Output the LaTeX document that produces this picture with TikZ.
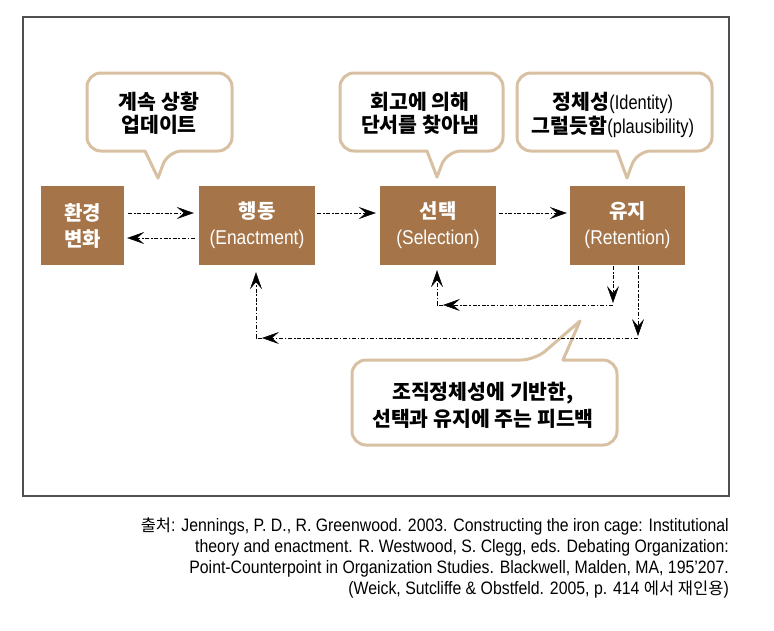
\documentclass[tikz,border=0pt]{standalone}
\usepackage{fontspec}
\setmainfont{Noto Sans CJK KR}
\newfontfamily\narbox[FakeStretch=0.87]{Liberation Sans}
\newfontfamily\narbub[FakeStretch=0.82]{Liberation Sans}
\newfontfamily\narcap[FakeStretch=0.88]{Liberation Sans}
\usetikzlibrary{arrows.meta}
\definecolor{boxbrown}{RGB}{165,116,72}
\definecolor{bubtan}{RGB}{216,192,162}
\definecolor{framegray}{RGB}{80,80,80}
\begin{document}
\begin{tikzpicture}[x=1pt,y=-1pt,
  stagebox/.style={fill=boxbrown, text=white, align=center, inner sep=0pt,
    minimum height=79pt, font=\bfseries\fontsize{20}{26}\selectfont},
  bub/.style={draw=bubtan, line width=3pt, fill=white, line join=round},
  bubtext/.style={align=center, inner sep=0pt, font=\bfseries\fontsize{20.5}{23}\selectfont},
  dl/.style={line width=1pt, dash pattern=on 4pt off 1.8pt on 1.5pt off 1.8pt},
  arr/.style={dl, -{Stealth[length=17pt,width=12pt,inset=7pt,line width=0.5pt]}},
]
\newcommand\boxlat[1]{{\mdseries\narbox\fontsize{20}{26}\selectfont #1}}
\newcommand\bublat[1]{{\mdseries\narbub\fontsize{20}{24}\selectfont #1}}
\useasboundingbox (0,0) rectangle (774,630);
\draw[framegray, line width=1.5pt] (23,17) rectangle (729,496);

% speech bubbles
\draw[bub] (160,73) [rounded corners=14pt] -- (232,73) -- (232,151) -- (168,151) [sharp corners] -- (158,178) -- (145,151) [rounded corners=14pt] -- (87,151) -- (87,73) -- cycle;
\draw[bub] (420,73) [rounded corners=14pt] -- (503,73) -- (503,151) -- (447,151) [sharp corners] -- (437,177) -- (427,151) [rounded corners=14pt] -- (340,151) -- (340,73) -- cycle;
\draw[bub] (610,73) [rounded corners=14pt] -- (712,73) -- (712,151) -- (637,151) [sharp corners] -- (627,178) -- (617,151) [rounded corners=14pt] -- (517,151) -- (517,73) -- cycle;
\draw[bub] (450,445) [rounded corners=14pt] -- (352,445) -- (352,360) -- (535,360) [sharp corners] -- (580,321) -- (563,360) [rounded corners=14pt] -- (617,360) -- (617,445) -- cycle;

\node[bubtext] (b1) at (159,113.5) {계속 상황\\업데이트};
\node[bubtext] (b2) at (420,113.5) {회고에 의해\\단서를 찾아냄};
\node[bubtext, font=\bfseries\fontsize{20.5}{24}\selectfont] (b3) at (613,115) {정체성\bublat{(Identity)}\\그럴듯함\bublat{(plausibility)}};
\node[bubtext, font=\bfseries\fontsize{20.5}{27}\selectfont] (b4) at (483,405.5) {조직정체성에 기반한,\\선택과 유지에 주는 피드백};

% stage boxes
\node[stagebox, minimum width=83pt] (env) at (82.5,225.5) {환경\\변화};
\node[stagebox, minimum width=116pt] (act) at (257,225.5) {행동\\\boxlat{(Enactment)}};
\node[stagebox, minimum width=116pt] (sel) at (438,225.5) {선택\\\boxlat{(Selection)}};
\node[stagebox, minimum width=115pt] (ret) at (627.5,225.5) {유지\\\boxlat{(Retention)}};

% forward / back arrows
\draw[arr, shorten <=4pt, shorten >=5pt] ([yshift=12.5pt]env.east) -- ([yshift=12.5pt]act.west);
\draw[arr, shorten <=4pt, shorten >=3pt] ([yshift=-12.5pt]act.west) -- ([yshift=-12.5pt]env.east);
\draw[arr, shorten <=2pt, shorten >=4pt] ([yshift=12.5pt]act.east) -- ([yshift=12.5pt]sel.west);
\draw[arr, shorten <=3pt, shorten >=3pt] ([yshift=12.5pt]sel.east) -- ([yshift=12.5pt]ret.west);

% feedback loops
\coordinate (i1) at (613,305);
\coordinate (i2) at (437,305);
\coordinate (o1) at (638,338);
\coordinate (o2) at (256,338);
\draw[arr, shorten <=1pt, shorten >=2pt] ([xshift=-14.5pt]ret.south) -- (i1);
\draw[arr] (i1) -- ([xshift=6pt]i2);
\draw[dl] ([xshift=6pt]i2) -- (i2);
\draw[arr, shorten >=5pt] (i2) -- (i2 |- sel.south);
\draw[arr, shorten <=1pt, shorten >=2pt] ([xshift=10.5pt]ret.south) -- (o1);
\draw[arr] (o1) -- ([xshift=6pt]o2);
\draw[dl] ([xshift=6pt]o2) -- (o2);
\draw[arr, shorten >=7pt] (o2) -- (o2 |- act.south);

% source note
\node[anchor=base east, align=right, inner sep=0pt, font=\narcap\fontsize{18}{21}\selectfont] (src) at (729,594.5)
 {{\fontspec{Noto Sans CJK KR}\fontsize{16.5}{21}\selectfont 출처}: Jennings, P. D., R. Greenwood. 2003. Constructing the iron cage: Institutional\\
  theory and enactment. R. Westwood, S. Clegg, eds. Debating Organization:\\
  Point-Counterpoint in Organization Studies. Blackwell, Malden, MA, 195’207.\\
  (Weick, Sutcliffe \& Obstfeld. 2005, p. 414 {\fontspec{Noto Sans CJK KR}\fontsize{16.5}{21}\selectfont 에서 재인용})};
\end{tikzpicture}
\end{document}
